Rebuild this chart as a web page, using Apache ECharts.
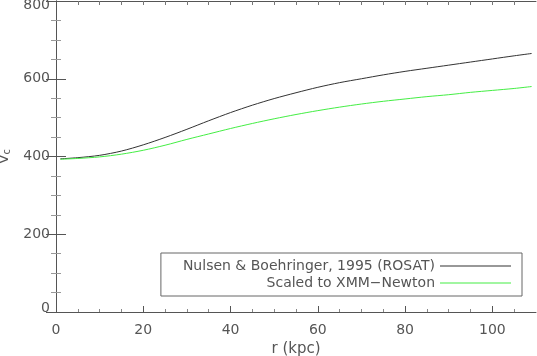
<!DOCTYPE html>
<html>
<head>
<meta charset="utf-8">
<script src="https://cdn.jsdelivr.net/npm/echarts@6/dist/echarts.min.js"></script>
<style>
  html, body { margin: 0; padding: 0; background: #fff; }
  #chart { width: 537px; height: 356px; }
</style>
</head>
<body>
<div id="chart"></div>
<script>
// radius (kpc) and circular velocity
const radius = [1, 5, 10, 15, 20, 25, 30, 35, 40, 45, 50, 55, 60, 65, 70, 75, 80, 85, 90, 95, 100, 105, 109];
const vcRosat = [394, 397, 403, 414, 430, 449, 470, 492, 513, 532, 549, 564, 578, 590, 600, 610, 619, 627, 635, 643, 651, 659, 665];
const vcXmm = [393, 395, 399, 406, 416, 429, 444, 458, 472, 485, 497, 508, 518, 527, 535, 542, 548, 554, 559, 565, 570, 575, 580];

const seriesNames = ["Nulsen & Boehringer, 1995 (ROSAT)", "Scaled to XMM\u2212Newton"];
const xMajorTicks = [0, 20, 40, 60, 80, 100];
const xMinorTicks = [5, 10, 15, 25, 30, 35, 45, 50, 55, 65, 70, 75, 85, 90, 95, 105];
const xTopTicks = [5, 10, 15, 20, 25, 30, 35, 40, 45, 50, 55, 60, 65, 70, 75, 80, 85, 90, 95, 100, 105];

const FONT = "DejaVu Sans";
const AXIS = "#555";

function pairs(ys) {
  return radius.map((r, i) => [r, ys[i]]);
}

const chart = echarts.init(document.getElementById("chart"));

const option = {
  animation: false,
  backgroundColor: "#fff",
  grid: { left: 56, right: 1, top: 1, bottom: 44, containLabel: false, outerBoundsMode: "none" },
  legend: {
    orient: "vertical",
    align: "right",
    right: 15,
    top: 253,
    icon: "rect",
    itemWidth: 71,
    itemHeight: 1,
    itemGap: 1,
    padding: [5, 11, 5, 22],
    borderColor: "#666",
    borderWidth: 1,
    textStyle: { fontFamily: FONT, fontSize: 14, color: "#555", lineHeight: 16 },
    data: seriesNames
  },
  xAxis: [
    {
      type: "value",
      position: "bottom",
      min: 0,
      max: 110,
      name: "r (kpc)",
      nameLocation: "middle",
      nameGap: 23,
      nameTextStyle: { fontFamily: FONT, fontSize: 15, color: "#555" },
      axisLine: { show: true, lineStyle: { color: AXIS, width: 1 } },
      axisTick: { show: true, inside: true, length: 6, customValues: xMajorTicks, lineStyle: { color: AXIS } },
      axisLabel: { customValues: xMajorTicks, margin: 11, fontFamily: FONT, fontSize: 14, color: "#555" },
      splitLine: { show: false }
    },
    {
      type: "value",
      position: "bottom",
      min: 0,
      max: 110,
      axisLine: { show: false },
      axisTick: { show: true, inside: true, length: 3, customValues: xMinorTicks, lineStyle: { color: "#888" } },
      axisLabel: { show: false },
      splitLine: { show: false }
    },
    {
      type: "value",
      position: "top",
      min: 0,
      max: 110,
      axisLine: { show: true, lineStyle: { color: AXIS, width: 1 } },
      axisTick: { show: true, inside: true, length: 4, customValues: xTopTicks, lineStyle: { color: "#777" } },
      axisLabel: { show: false },
      splitLine: { show: false }
    }
  ],
  yAxis: [
    {
      type: "value",
      position: "left",
      min: 0,
      max: 800,
      interval: 200,
      name: "{v|V}{s|c}",
      nameLocation: "middle",
      nameRotate: 90,
      nameGap: 38,
      nameTextStyle: {
        rich: {
          v: { fontFamily: FONT, fontSize: 14, color: "#555" },
          s: { fontFamily: FONT, fontSize: 10, color: "#555", verticalAlign: "bottom", padding: [6, 0, 0, 0] }
        }
      },
      axisLine: { show: true, lineStyle: { color: AXIS, width: 1 } },
      axisTick: { show: true, inside: true, length: 10, lineStyle: { color: AXIS } },
      minorTick: { show: true, splitNumber: 4, length: 5, lineStyle: { color: "#999" } },
      axisLabel: {
        margin: 6,
        fontFamily: FONT,
        fontSize: 14,
        color: "#555",
        // keep the end labels inside the frame, as in the original plot
        formatter: (v) => (v === 800 ? "{top|800}" : v === 0 ? "{bot|0}" : String(v)),
        rich: {
          top: { fontFamily: FONT, fontSize: 14, color: "#555", padding: [9, 0, 0, 0] },
          bot: { fontFamily: FONT, fontSize: 14, color: "#555", padding: [0, 0, 8, 0] }
        }
      },
      splitLine: { show: false }
    },
    {
      type: "value",
      position: "right",
      min: 0,
      max: 800,
      interval: 200,
      axisLine: { show: true, lineStyle: { color: AXIS, width: 1 } },
      axisTick: { show: true, inside: true, length: 10, lineStyle: { color: AXIS } },
      minorTick: { show: true, splitNumber: 4, length: 5, lineStyle: { color: "#999" } },
      axisLabel: { show: false },
      splitLine: { show: false }
    }
  ],
  series: [
    {
      name: seriesNames[0],
      type: "line",
      xAxisIndex: 0,
      yAxisIndex: 0,
      smooth: 0.3,
      symbol: "none",
      lineStyle: { color: "#333", width: 1 },
      itemStyle: { color: "#333" },
      data: pairs(vcRosat)
    },
    {
      name: seriesNames[1],
      type: "line",
      xAxisIndex: 0,
      yAxisIndex: 0,
      smooth: 0.3,
      symbol: "none",
      lineStyle: { color: "#44ee44", width: 1 },
      itemStyle: { color: "#44ee44" },
      data: pairs(vcXmm)
    }
  ]
};

chart.setOption(option);
</script>
</body>
</html>
